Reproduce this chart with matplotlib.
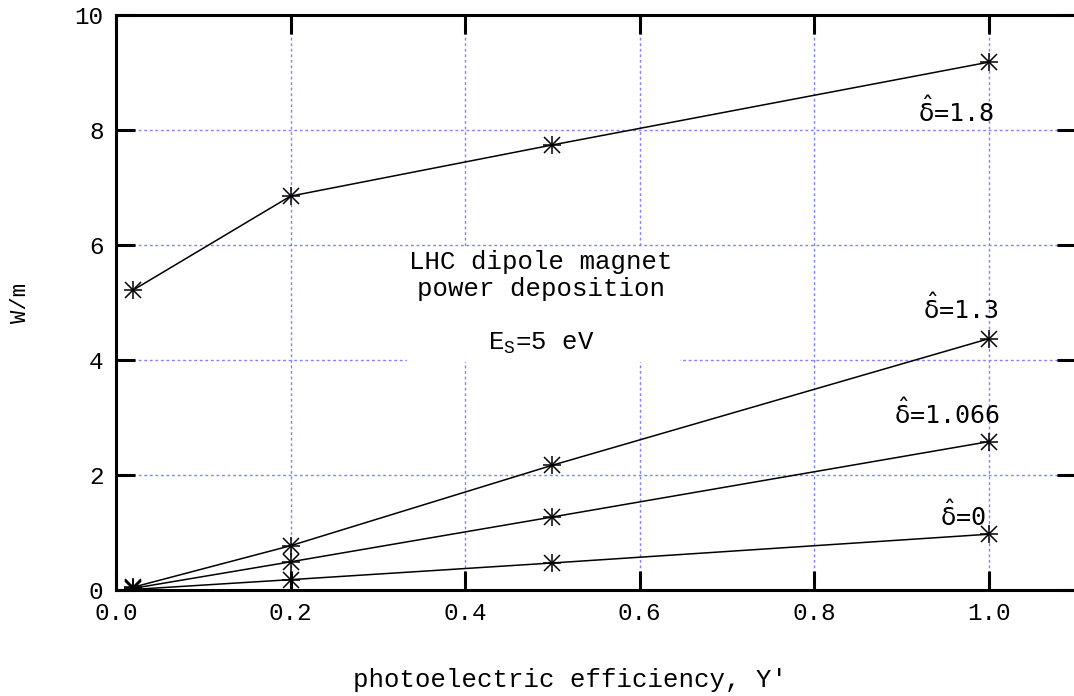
import numpy as np
import matplotlib
matplotlib.use('Agg')
import matplotlib.pyplot as plt
from matplotlib.patches import Rectangle

plt.rcParams['font.family'] = ['Liberation Mono', 'DejaVu Sans Mono']
plt.rcParams['mathtext.fontset'] = 'dejavusans'

# photoelectric efficiency values
yield_eff = [0.02, 0.2, 0.5, 1.0]

# deposited power (W/m) for each secondary-emission yield
power_d18 = [5.22, 6.85, 7.74, 9.18]
power_d13 = [0.05, 0.77, 2.17, 4.37]
power_d1066 = [0.03, 0.49, 1.27, 2.58]
power_d0 = [0.01, 0.18, 0.47, 0.97]

series = [power_d18, power_d13, power_d1066, power_d0]
labels = ['1.8', '1.3', '1.066', '0']
label_pos = [(0.962, 8.32), (0.968, 4.89), (0.952, 3.06), (0.971, 1.29)]

fig = plt.figure(figsize=(10.74, 6.96), dpi=100)
ax = fig.add_axes([116 / 1074, 106 / 696, 960 / 1074, 575 / 696])

for vals in series:
    ax.plot(yield_eff, vals, color='black', lw=1.1, zorder=3)
    ax.plot(yield_eff, vals, ls='none', marker='+', ms=13, mew=1.1,
            color='black', zorder=4)
    ax.plot(yield_eff, vals, ls='none', marker='x', ms=11, mew=1.1,
            color='black', zorder=4)

for lab, (lx, ly) in zip(labels, label_pos):
    ax.text(lx, ly, r'$\hat{\mathrm{\delta}}$=' + lab, ha='center',
            va='center', fontsize=18, family=['DejaVu Sans Mono'], zorder=5)

ax.set_xlim(0, 1.1)
ax.set_ylim(0, 10)
ax.set_xticks([0.0, 0.2, 0.4, 0.6, 0.8, 1.0])
ax.set_xticklabels(['0.0', '0.2', '0.4', '0.6', '0.8', '1.0'])
ax.set_yticks([0, 2, 4, 6, 8, 10])
ax.tick_params(direction='in', length=14, width=2.2, labelsize=17.5, pad=9,
               top=True, right=True)

ax.grid(True, color='#8080ff', lw=1, ls=(0, (2, 2)), zorder=1)
for s in ax.spines.values():
    s.set_linewidth(2.2)

# white patch behind the caption hides the grid there
ax.add_patch(Rectangle((0.334, 3.96), 0.312, 1.98, facecolor='white',
                       edgecolor='none', zorder=2))
ax.text(0.487, 4.99, 'LHC dipole magnet\npower deposition\n\n'
        r'E$_\mathregular{S}$=5 eV',
        ha='center', va='center', fontsize=18.5, linespacing=1.15, zorder=3)

fig.text(20 / 1074, 0.565, 'W/m', rotation=90, ha='center', va='center',
         fontsize=16)
fig.text(570 / 1074, 1 - 680 / 696, "photoelectric efficiency, Y'",
         ha='center', va='center', fontsize=18.5)

fig.savefig('out.png', dpi=100)
